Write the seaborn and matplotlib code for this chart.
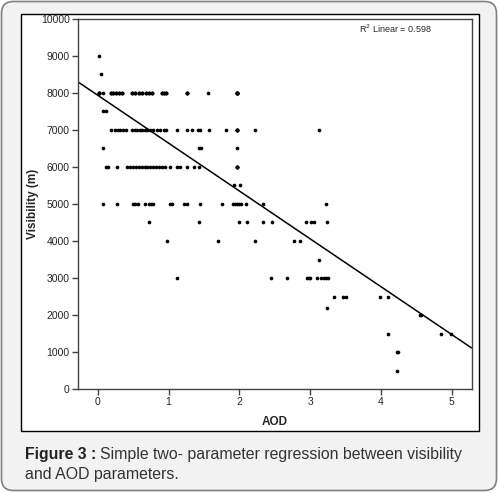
import numpy as np
import matplotlib
matplotlib.use("Agg")
import matplotlib.pyplot as plt
import matplotlib.patches as mpatches
from matplotlib.transforms import IdentityTransform
import pandas as pd
import seaborn as sns

# AOD values for each visibility level
aod_9000 = [0.01]
aod_8500 = [0.05]
aod_8000 = [0.02, 0.07, 0.18, 0.22, 0.26, 0.30, 0.34, 0.48, 0.53, 0.58, 0.63,
            0.68, 0.72, 0.77, 0.90, 0.94, 0.97, 1.26, 1.55, 1.96, 1.97]
aod_7500 = [0.08, 0.12]
aod_7000 = [0.19, 0.24, 0.28, 0.32, 0.36, 0.40, 0.48, 0.52, 0.56, 0.60, 0.63,
            0.66, 0.70, 0.74, 0.78, 0.84, 0.88, 0.93, 0.97, 1.12, 1.26, 1.33,
            1.41, 1.45, 1.57, 1.81, 1.96, 2.22, 3.13]
aod_6500 = [0.08, 1.43, 1.46, 1.96]
aod_6000 = [0.11, 0.14, 0.27, 0.41, 0.45, 0.50, 0.54, 0.58, 0.62, 0.66, 0.70,
            0.74, 0.78, 0.82, 0.86, 0.91, 0.95, 1.02, 1.12, 1.16, 1.26, 1.36,
            1.43, 1.96]
aod_5500 = [1.93, 2.01]
aod_5000 = [0.08, 0.27, 0.50, 0.53, 0.57, 0.67, 0.72, 0.75, 0.78, 1.02, 1.05,
            1.22, 1.26, 1.45, 1.76, 1.91, 1.94, 1.97, 2.00, 2.03, 2.09, 2.34,
            3.22]
aod_4500 = [0.73, 1.43, 2.00, 2.11, 2.34, 2.46, 2.94, 3.01, 3.06, 3.24]
aod_4000 = [0.98, 1.70, 2.22, 2.77, 2.86]
aod_3500 = [3.12]
aod_3000 = [1.12, 2.44, 2.67, 2.95, 2.98, 3.00, 3.09, 3.15, 3.20, 3.23, 3.25]
aod_2500 = [3.34, 3.46, 3.51, 3.99, 4.10]
aod_2200 = [3.24]
aod_2000 = [4.55, 4.56]
aod_1500 = [4.10, 4.85, 4.99]
aod_1000 = [4.23, 4.24]
aod_500 = [4.23]

# overlapping (stacked) observations hidden under the dense clusters,
# estimated so the fit matches the drawn line and R2 = 0.598
stack_8000 = ([0.18, 0.22, 0.26, 0.30, 0.34, 0.48, 0.53, 0.58, 0.63, 0.68,
               0.72, 0.77, 0.90, 0.94, 0.97] * 2
              + [1.96] * 6 + [1.26] * 3 + [0.02] * 4)
stack_7000 = [1.96] * 4
stack_6000 = [1.96] * 4

levels = [(9000, aod_9000), (8500, aod_8500), (8000, aod_8000), (8000, stack_8000),
          (7500, aod_7500), (7000, aod_7000), (7000, stack_7000), (6500, aod_6500),
          (6000, aod_6000), (6000, stack_6000), (5500, aod_5500), (5000, aod_5000),
          (4500, aod_4500), (4000, aod_4000), (3500, aod_3500), (3000, aod_3000),
          (2500, aod_2500), (2200, aod_2200), (2000, aod_2000), (1500, aod_1500),
          (1000, aod_1000), (500, aod_500)]
rows = [(a, v) for v, lst in levels for a in lst]
df = pd.DataFrame(rows, columns=["AOD", "Visibility"])

sns.set_style("ticks")
plt.rcParams['font.family'] = ['Liberation Sans', 'DejaVu Sans']

fig = plt.figure(figsize=(4.99, 4.93), dpi=100, facecolor="white")

# rounded grey card + white panel, kept behind the axes
card = mpatches.FancyBboxPatch((1.5, 2.5), 495, 489,
                               boxstyle="round,pad=0,rounding_size=12",
                               transform=IdentityTransform(), zorder=-3,
                               facecolor="#f2f2f2", edgecolor="#808080", lw=1.2)
fig.add_artist(card)
panel = mpatches.Rectangle((20.5, 493 - 431), 458, 431 - 13.5,
                           transform=IdentityTransform(), zorder=-2,
                           facecolor="white", edgecolor="black", lw=1)
fig.add_artist(panel)

ax = fig.add_axes([78 / 499, (493 - 389) / 493, (471.5 - 78) / 499, (389 - 19) / 493])
ax.set_facecolor("white")
ax.set_xlim(-0.28, 5.28)
ax.set_ylim(0, 10000)

sns.regplot(data=df, x="AOD", y="Visibility", ax=ax, ci=None, truncate=False,
            scatter_kws=dict(s=7, color="black", linewidths=0, alpha=1),
            line_kws=dict(color="black", lw=1.1))

for s in ax.spines.values():
    s.set_color("#444444")
    s.set_linewidth(1)
ax.set_xticks([0, 1, 2, 3, 4, 5])
ax.set_yticks(np.arange(0, 10001, 1000))
ax.tick_params(labelsize=7.5, length=4, width=1, color="#444444", pad=2)

ax.set_xlabel("AOD", fontsize=8.5, fontweight="bold")
ax.set_ylabel("Visibility (m)", fontsize=8.5, fontweight="bold")
ax.xaxis.set_label_coords(0.5, -0.072)
ax.yaxis.set_label_coords(-0.10, 0.5)

ax.text(0.714, 0.973, "R$^2$ Linear = 0.598", transform=ax.transAxes,
        fontsize=6.5, va="center", ha="left")

cap_size = 11.4
t1 = fig.text(25 / 499, 1 - 455 / 493, "Figure 3 :", fontsize=cap_size,
              fontweight="bold", va="center", ha="left", color="#222222")
renderer = fig.canvas.get_renderer()
x_end = t1.get_window_extent(renderer).x1
fig.text((x_end + 4) / 499, 1 - 455 / 493,
         "Simple two- parameter regression between visibility",
         fontsize=cap_size, va="center", ha="left", color="#333333")
fig.text(25 / 499, 1 - 474 / 493, "and AOD parameters.", fontsize=cap_size,
         va="center", ha="left", color="#333333")

fig.savefig("out.png", dpi=100)
